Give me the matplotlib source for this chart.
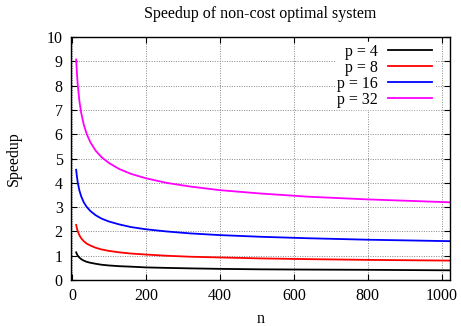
import matplotlib
matplotlib.use('Agg')
import matplotlib.pyplot as plt

# значения (n, ускорение)
n = [11.5, 12, 14, 16, 20, 25, 32, 40, 50, 64, 80, 100, 128, 160, 200,
     256, 320, 400, 512, 640, 800, 1024]
s_p32 = [9.08, 8.93, 8.40, 8.00, 7.40, 6.89, 6.40, 6.01, 5.67, 5.33, 5.06,
         4.82, 4.57, 4.37, 4.19, 4.00, 3.85, 3.70, 3.56, 3.43, 3.32, 3.20]
s_p16 = [4.54, 4.46, 4.20, 4.00, 3.70, 3.45, 3.20, 3.01, 2.84, 2.67, 2.53,
         2.41, 2.29, 2.18, 2.09, 2.00, 1.92, 1.85, 1.78, 1.72, 1.66, 1.60]
s_p8 = [2.27, 2.23, 2.10, 2.00, 1.85, 1.72, 1.60, 1.50, 1.42, 1.33, 1.26,
        1.20, 1.14, 1.09, 1.05, 1.00, 0.96, 0.93, 0.89, 0.86, 0.83, 0.80]
s_p4 = [1.14, 1.12, 1.05, 1.00, 0.93, 0.86, 0.80, 0.75, 0.71, 0.67, 0.63,
        0.60, 0.57, 0.55, 0.52, 0.50, 0.48, 0.46, 0.44, 0.43, 0.42, 0.40]
labels = ['p = 4', 'p = 8', 'p = 16', 'p = 32']
colors = ['black', 'red', 'blue', 'magenta']

plt.rcParams['font.family'] = ['Liberation Serif', 'DejaVu Serif']
plt.rcParams['font.size'] = 11.5

fig = plt.figure(figsize=(4.61, 3.26), dpi=100)
ax = fig.add_axes([0.154, 0.141, 0.822, 0.745])

for ys, lbl, c in zip([s_p4, s_p8, s_p16, s_p32], labels, colors):
    ax.plot(n, ys, color=c, lw=1.3, label=lbl)

ax.set_xlim(-2.5, 1022)
ax.set_ylim(0, 10)
ax.set_xticks(range(0, 1001, 200))
ax.set_yticks(range(0, 11))
ax.tick_params(direction='in', top=True, right=True, length=4, width=0.8,
               labelsize=11.5, pad=6)
ax.grid(True, color='#888888', linestyle=(0, (1, 1.5)), linewidth=0.7)
for sp in ax.spines.values():
    sp.set_linewidth(1.0)

ax.set_title('Speedup of non-cost optimal system', fontsize=11.5, pad=14)
ax.set_xlabel('n', labelpad=5)
ax.set_ylabel('Speedup', labelpad=18)

# markerfirst=False: подписи слева, выровнены по правому краю
leg = ax.legend(loc='upper right', bbox_to_anchor=(0.957, 0.979),
                markerfirst=False, frameon=True, fancybox=False,
                handlelength=2.75, labelspacing=0.0, borderaxespad=0.0,
                handletextpad=0.62, borderpad=0.1, fontsize=11.5)
leg.get_frame().set_edgecolor('white')
leg.get_frame().set_facecolor('white')
leg.get_frame().set_alpha(1)

fig.savefig('out.png', dpi=100)
